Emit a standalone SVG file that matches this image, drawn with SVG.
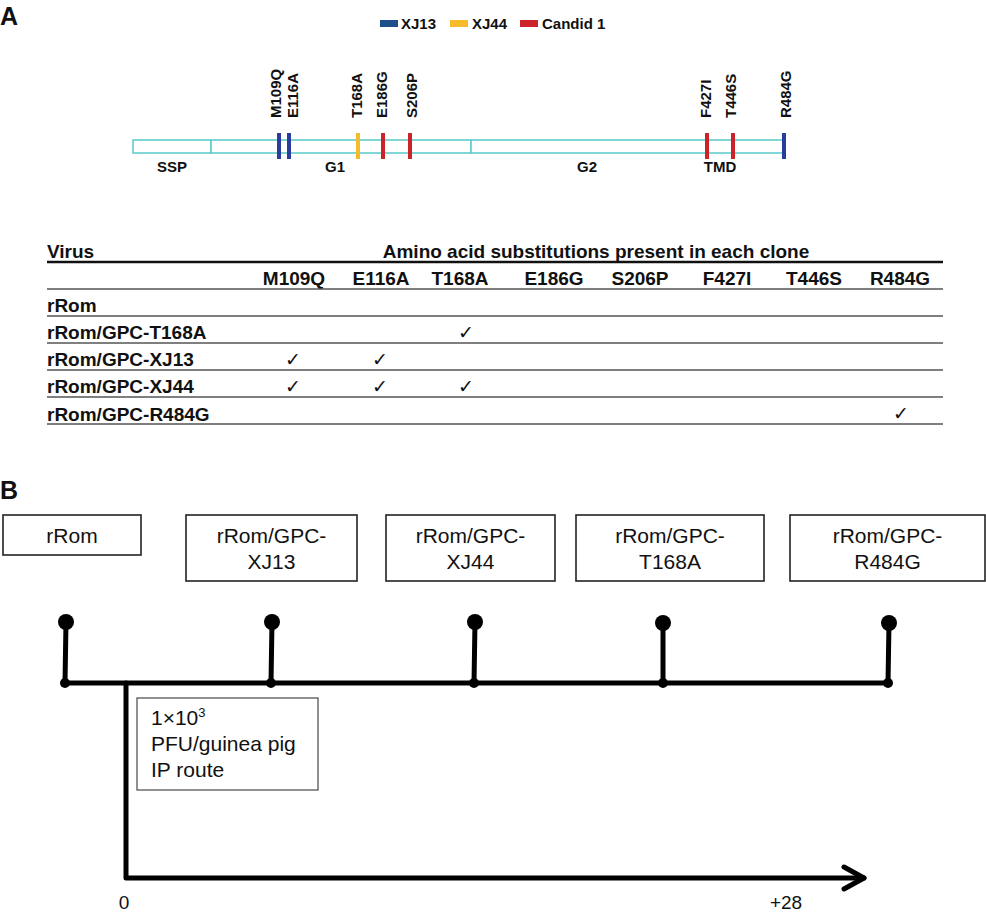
<svg xmlns="http://www.w3.org/2000/svg" width="986" height="913" viewBox="0 0 986 913">
<style>
text{font-family:"Liberation Sans",Arial,sans-serif;fill:#111}
.b{font-weight:bold}
.lab{font-size:15px;font-weight:bold}
.mut{font-size:15px;font-weight:bold}
.tbl{font-size:19px;font-weight:bold}
.chk{font-family:"DejaVu Sans",sans-serif;font-size:19px;text-anchor:middle}
.seg{fill:#fff;stroke:#62cccc;stroke-width:1.6}
.xj13{stroke:#2a3c9c;stroke-width:4}
.xj44{stroke:#f6bb2a;stroke-width:4}
.cand{stroke:#cc2229;stroke-width:4}
.rl{stroke:#555;stroke-width:1.5}
.box{fill:#fff;stroke:#222;stroke-width:1.6}
.bt{font-size:21px;text-anchor:middle}
.tl{stroke:#000;stroke-width:5;fill:none;stroke-linecap:round;stroke-linejoin:round}
</style>

<!-- Panel A -->
<text x="0" y="25" class="b" style="font-size:25px">A</text>

<g id="legend">
  <rect x="380" y="20" width="18" height="7" fill="#1f4e8c"/>
  <text x="401" y="29" class="lab">XJ13</text>
  <rect x="450" y="20" width="18" height="7" fill="#f6bb2a"/>
  <text x="472" y="29" class="lab">XJ44</text>
  <rect x="520" y="20" width="18" height="7" fill="#cc2229"/>
  <text x="542" y="29" class="lab">Candid 1</text>
</g>

<g id="gpc">
  <rect class="seg" x="133" y="140" width="78" height="13"/>
  <rect class="seg" x="211" y="140" width="260" height="13"/>
  <rect class="seg" x="471" y="140" width="312" height="13"/>
  <line class="xj13" x1="279" y1="133" x2="279" y2="159"/>
  <line class="xj13" x1="289" y1="133" x2="289" y2="159"/>
  <line class="xj44" x1="358" y1="133" x2="358" y2="159"/>
  <line class="cand" x1="383" y1="133" x2="383" y2="159"/>
  <line class="cand" x1="410" y1="133" x2="410" y2="159"/>
  <line class="cand" x1="707" y1="133" x2="707" y2="159"/>
  <line class="cand" x1="733" y1="133" x2="733" y2="159"/>
  <line class="xj13" x1="784" y1="133" x2="784" y2="159"/>
  <text class="mut" transform="translate(281,118) rotate(-90)">M109Q</text>
  <text class="mut" transform="translate(298,118) rotate(-90)">E116A</text>
  <text class="mut" transform="translate(362,118) rotate(-90)">T168A</text>
  <text class="mut" transform="translate(387,118) rotate(-90)">E186G</text>
  <text class="mut" transform="translate(417,118) rotate(-90)">S206P</text>
  <text class="mut" transform="translate(711,118) rotate(-90)">F427I</text>
  <text class="mut" transform="translate(736,118) rotate(-90)">T446S</text>
  <text class="mut" transform="translate(791,118) rotate(-90)">R484G</text>
  <text x="172" y="172" class="lab" text-anchor="middle">SSP</text>
  <text x="335" y="172" class="lab" text-anchor="middle">G1</text>
  <text x="587" y="172" class="lab" text-anchor="middle">G2</text>
  <text x="720" y="172" class="lab" text-anchor="middle">TMD</text>
</g>

<g id="table">
  <text x="47" y="258" class="tbl">Virus</text>
  <text x="596" y="258" class="tbl" text-anchor="middle">Amino acid substitutions present in each clone</text>
  <line x1="47" y1="262" x2="943" y2="262" stroke="#111" stroke-width="2.5"/>
  <g class="tbl" text-anchor="middle">
    <text x="294" y="285">M109Q</text>
    <text x="381" y="285">E116A</text>
    <text x="460" y="285">T168A</text>
    <text x="554" y="285">E186G</text>
    <text x="640" y="285">S206P</text>
    <text x="727" y="285">F427I</text>
    <text x="814" y="285">T446S</text>
    <text x="900" y="285">R484G</text>
  </g>
  <line class="rl" x1="47" y1="289" x2="943" y2="289"/>
  <text x="47" y="312" class="tbl">rRom</text>
  <line class="rl" x1="47" y1="316" x2="943" y2="316"/>
  <text x="47" y="339" class="tbl">rRom/GPC-T168A</text>
  <line class="rl" x1="47" y1="343" x2="943" y2="343"/>
  <text x="47" y="366" class="tbl">rRom/GPC-XJ13</text>
  <line class="rl" x1="47" y1="370" x2="943" y2="370"/>
  <text x="47" y="393" class="tbl">rRom/GPC-XJ44</text>
  <line class="rl" x1="47" y1="397" x2="943" y2="397"/>
  <text x="47" y="421" class="tbl">rRom/GPC-R484G</text>
  <line class="rl" x1="47" y1="424" x2="943" y2="424"/>
  <text class="chk" x="466" y="339">✓</text>
  <text class="chk" x="293" y="366">✓</text>
  <text class="chk" x="380" y="366">✓</text>
  <text class="chk" x="293" y="393">✓</text>
  <text class="chk" x="380" y="393">✓</text>
  <text class="chk" x="466" y="393">✓</text>
  <text class="chk" x="901" y="420">✓</text>
</g>

<!-- Panel B -->
<text x="0" y="499" class="b" style="font-size:25px">B</text>

<g id="box-rRom">
  <rect class="box" x="3" y="515" width="138" height="40"/>
  <text class="bt" x="72" y="543">rRom</text>
</g>
<g id="box-XJ13">
  <rect class="box" x="186" y="515" width="171" height="66"/>
  <text class="bt" x="271.5" y="543">rRom/GPC-</text>
  <text class="bt" x="271.5" y="569">XJ13</text>
</g>
<g id="box-XJ44">
  <rect class="box" x="386" y="515" width="169" height="66"/>
  <text class="bt" x="470.5" y="543">rRom/GPC-</text>
  <text class="bt" x="470.5" y="569">XJ44</text>
</g>
<g id="box-T168A">
  <rect class="box" x="576" y="515" width="188" height="66"/>
  <text class="bt" x="670" y="543">rRom/GPC-</text>
  <text class="bt" x="670" y="569">T168A</text>
</g>
<g id="box-R484G">
  <rect class="box" x="790" y="515" width="195" height="66"/>
  <text class="bt" x="887.5" y="543">rRom/GPC-</text>
  <text class="bt" x="887.5" y="569">R484G</text>
</g>

<g id="inoculum">
  <rect x="137" y="698" width="181" height="92" fill="#fff" stroke="#555" stroke-width="1.3"/>
  <text x="151" y="725" style="font-size:21px">1×10<tspan dy="-8" style="font-size:13px">3</tspan></text>
  <text x="151" y="751" style="font-size:21px">PFU/guinea pig</text>
  <text x="151" y="777" style="font-size:21px">IP route</text>
</g>

<g id="connectors">
  <line class="tl" x1="64" y1="683" x2="888" y2="683"/>
  <line class="tl" x1="66" y1="622" x2="65" y2="683"/>
  <line class="tl" x1="272" y1="622" x2="271" y2="683"/>
  <line class="tl" x1="475" y1="622" x2="474" y2="683"/>
  <line class="tl" x1="663" y1="623" x2="663" y2="683"/>
  <line class="tl" x1="889" y1="623" x2="888" y2="683"/>
  <g fill="#000">
    <circle cx="66" cy="622" r="8"/>
    <circle cx="272" cy="622" r="8"/>
    <circle cx="475" cy="622" r="8"/>
    <circle cx="663" cy="623" r="8"/>
    <circle cx="889" cy="623" r="8"/>
    <circle cx="65" cy="683" r="5"/>
    <circle cx="271" cy="683" r="5"/>
    <circle cx="474" cy="683" r="5"/>
    <circle cx="663" cy="683" r="5"/>
    <circle cx="888" cy="683" r="5"/>
  </g>
  <polyline class="tl" points="126,683 126,878 864,878"/>
  <polyline class="tl" points="844,867 864,878 844,889"/>
</g>

<text x="124" y="909" text-anchor="middle" style="font-size:19px">0</text>
<text x="786" y="909" text-anchor="middle" style="font-size:19px">+28</text>
</svg>
